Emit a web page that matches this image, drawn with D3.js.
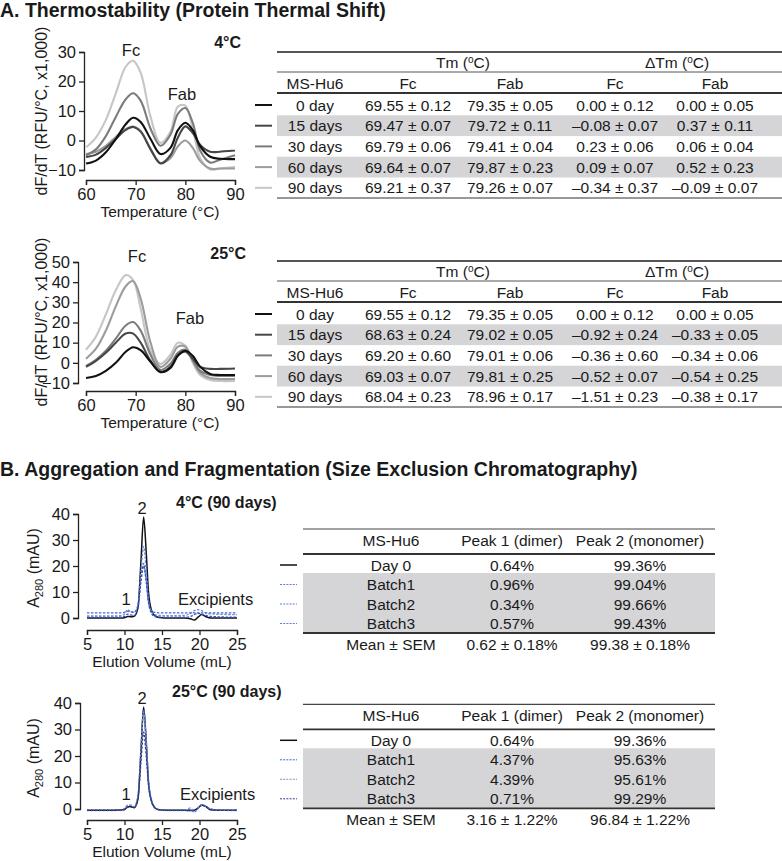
<!DOCTYPE html>
<html><head><meta charset="utf-8">
<script src="https://cdn.jsdelivr.net/npm/d3@7"></script>
<style>
body{margin:0;background:#fff;}
svg text{font-family:"Liberation Sans",Arial,Helvetica,sans-serif;fill:#1a1a1a;}
</style></head><body>
<svg id="fig" width="782" height="861"></svg>
<script>
// ---------------- DATA ----------------
const tempX = [60,62,64,66,68,69.5,71,73,75,77,78.5,80,81.5,83,85,87,90];
const tempTicks = [60,70,80,90];
const seriesNames = ["0 day","15 days","30 days","60 days","90 days"];
const seriesColors = ["#111111","#474747","#7c7c7c","#9c9c9c","#c6c6c6"];

// dF/dT (x1,000) at 4 °C
const dsf4Ticks = [-10,0,10,20,30];
const dsf4_day0  = [-7.8,-6.8,-4,0.5,5.5,7.7,6.3,0.5,-4.6,-2.5,3.5,6,3.5,-2,-5.5,-6.2,-6.3];
const dsf4_day15 = [-5.6,-4.8,-2.5,0.5,3.6,4.6,3,-3,-7.8,-5,1,4.8,2.5,-1.5,-3.8,-3.8,-3.4];
const dsf4_day30 = [-5,-3,1.5,8,14,16,13.5,4,-1.8,2,9,11,6,-3.5,-7.5,-6.5,-5];
const dsf4_day60 = [-4.6,-3.8,-1.8,1.2,3.9,4.7,3.2,-2.8,-7.6,-6,-2,0,-2.5,-7,-9.5,-9.5,-9.5];
const dsf4_day90 = [-2.3,1,7,16,25,27,23,8,-0.8,3,11.5,11.8,4,-6,-9.8,-9.5,-9];

// dF/dT (x1,000) at 25 °C
const dsf25Ticks = [-10,0,10,20,30,40,50];
const dsf25_day0  = [-7.5,-6.5,-4,0,5.5,7.7,6.3,0.5,-4.6,-2.5,3.5,6,3.5,-2,-5.5,-6,-6];
const dsf25_day15 = [-2,1,5,10,14.5,14.5,10,1,-4.5,-2,4,5.5,2,-2,-3,-3,-2.8];
const dsf25_day30 = [-1.5,1.5,6,12,18.5,20.2,16,4,-3.5,-0.5,5,6.5,1.5,-4,-6,-6.5,-6.5];
const dsf25_day60 = [2,7,16,28,38,40.5,32,10,-2,2,8,8,1,-5,-7.5,-8,-8];
const dsf25_day90 = [6.5,13,24,36,43.5,41,27,6,-0.5,4,10,8.5,0,-6,-8.5,-9,-9];

// Tm tables (mean, SD)
const tm4_FcMean  = [69.55,69.47,69.79,69.64,69.21];
const tm4_FcSD    = [0.12,0.07,0.06,0.07,0.37];
const tm4_FabMean = [79.35,79.72,79.41,79.87,79.26];
const tm4_FabSD   = [0.05,0.11,0.04,0.23,0.07];
const dTm4_Fc     = [0.00,-0.08,0.23,0.09,-0.34];
const dTm4_Fab    = [0.00,0.37,0.06,0.52,-0.09];

const tm25_FcMean  = [69.55,68.63,69.20,69.03,68.04];
const tm25_FcSD    = [0.12,0.24,0.60,0.07,0.23];
const tm25_FabMean = [79.35,79.02,79.01,79.81,78.96];
const tm25_FabSD   = [0.05,0.05,0.06,0.25,0.17];
const dTm25_Fc     = [0.00,-0.92,-0.36,-0.52,-1.51];
const dTm25_Fab    = [0.00,-0.33,-0.34,-0.54,-0.38];

// SEC chromatograms (A280, mAU)
const secX = [5,8,9.5,10,10.4,10.8,11.3,11.8,12.2,12.55,12.9,13.2,13.6,14,14.6,16,18,18.8,19.3,19.8,20.3,20.8,21.5,23,25];
const secTicksX = [5,10,15,20,25];
const secTicksY = [0,10,20,30,40];
const secNames = ["Day 0","Batch1","Batch2","Batch3"];

const sec4_day0   = [0,0,0,0.1,0.6,0.5,0.7,4,22,38.8,25,10,3,1,0.2,0,0,-0.3,-0.8,0.3,1.3,0.6,0,0,0];
const sec4_batch1 = [0.8,0.8,0.9,1.5,3.2,2.5,2.2,5,18,27.5,18,7,2.5,1.3,1,0.9,1,1.8,2.8,3.2,2.8,2,1.6,1.4,1.3];
const sec4_batch2 = [2,2,2,2.2,2.6,2.4,2.3,5,15,21,14,6,2.8,2.2,2,2,2,2,2,2,2,2,2,2,2];
const sec4_batch3 = [0.3,0.3,0.3,0.6,1.5,1.2,1,4,14,20,14,6,1.8,0.6,0.3,0.3,0.3,0.6,1.3,1.8,1.5,1,0.6,0.4,0.3];

const sec25_day0   = [-0.5,-0.5,-0.4,-0.2,0.8,0.9,0.5,4,22,38.5,25,10,3,0.6,-0.3,-0.5,-0.5,-0.6,-0.5,0.3,1.5,1,-0.3,-0.5,-0.5];
const sec25_batch1 = [-0.5,-0.5,-0.4,0.2,1.4,1.5,0.9,5,23,37.5,26,11,3.5,0.8,-0.2,-0.5,-0.5,-0.2,-1.2,0.3,1.6,1.2,0,-0.4,-0.5];
const sec25_batch2 = [-0.6,-0.6,-0.5,0.1,1.3,1.4,0.8,5,22,36.5,25,10,3.2,0.7,-0.3,-0.6,-0.6,0.4,-1,0.2,1.5,1.1,-0.1,-0.5,-0.6];
const sec25_batch3 = [-0.5,-0.5,-0.4,-0.2,0.6,0.8,0.5,4,18,29,20,9,3,0.6,-0.3,-0.5,-0.5,-0.5,-0.5,0.4,1.3,0.9,-0.2,-0.5,-0.5];

// SEC tables (%)
const sec4_peak1  = [0.64,0.96,0.34,0.57];
const sec4_peak2  = [99.36,99.04,99.66,99.43];
const sec4_meanP1 = [0.62,0.18];
const sec4_meanP2 = [99.38,0.18];
const sec25_peak1  = [0.64,4.37,4.39,0.71];
const sec25_peak2  = [99.36,95.63,95.61,99.29];
const sec25_meanP1 = [3.16,1.22];
const sec25_meanP2 = [96.84,1.22];

// ---------------- DRAWING ----------------
const svg = d3.select("#fig");

function label(g, x, y, str, size, opts = {}) {
  const t = g.append("text").attr("x", x).attr("y", y).attr("font-size", size)
    .attr("text-anchor", opts.anchor || "start").text(str);
  if (opts.bold) t.attr("font-weight", "bold");
  return t;
}
function hline(g, x0, x1, y, w, c) {
  g.append("line").attr("x1", x0).attr("x2", x1).attr("y1", y).attr("y2", y)
    .attr("stroke", c).attr("stroke-width", w);
}
function styleAxis(g) {
  g.attr("font-size", null).attr("font-family", null);
  g.selectAll("text").attr("font-size", 16.5).attr("fill", "#1a1a1a");
  g.select(".domain").attr("stroke", "#222").attr("stroke-width", 1.3);
  g.selectAll(".tick line").attr("stroke", "#222").attr("stroke-width", 1.3);
}

// Titles
label(svg, 0, 17, "A. Thermostability (Protein Thermal Shift)", 19.5, {bold: true});
label(svg, 0, 476, "B. Aggregation and Fragmentation (Size Exclusion Chromatography)", 19.5, {bold: true});

function dsfChart(cfg) {
  const g = svg.append("g");
  const x = d3.scaleLinear().domain([60, 90]).range([86, 235]);
  const y = d3.scaleLinear().domain(cfg.yDomain).range(cfg.yRange);
  g.append("g").attr("transform", `translate(${cfg.axisX},0)`)
    .call(d3.axisLeft(y).tickValues(cfg.yTicks).tickSize(5).tickPadding(3)).call(styleAxis);
  g.append("g").attr("transform", `translate(0,${cfg.xAxisY})`)
    .call(d3.axisBottom(x).tickValues(tempTicks).tickSize(5).tickPadding(3)).call(styleAxis);
  const line = d3.line().x((d, i) => x(tempX[i])).y(d => y(d)).curve(d3.curveCatmullRom.alpha(0.5));
  // draw light curves first, black last
  for (let k = cfg.series.length - 1; k >= 0; k--) {
    g.append("path").attr("d", line(cfg.series[k])).attr("fill", "none")
      .attr("stroke", seriesColors[k]).attr("stroke-width", 2.1);
  }
  const yl = g.append("text").attr("transform", `translate(47,${cfg.labelCY}) rotate(-90)`)
    .attr("text-anchor", "middle").attr("font-size", 16);
  yl.text("dF/dT (RFU/°C, x1,000)");
  label(g, 160, cfg.xAxisY + 37, "Temperature (°C)", 15.5, {anchor: "middle"});
  label(g, cfg.condX, cfg.condY, cfg.cond, 16, {bold: true, anchor: "end"});
  label(g, cfg.fc[0], cfg.fc[1], "Fc", 16.5, {anchor: "middle"});
  label(g, cfg.fab[0], cfg.fab[1], "Fab", 16.5, {anchor: "middle"});
}

dsfChart({yDomain: [-10, 30], yRange: [170, 52], yTicks: dsf4Ticks, axisX: 84, xAxisY: 180,
  series: [dsf4_day0, dsf4_day15, dsf4_day30, dsf4_day60, dsf4_day90],
  labelCY: 111, cond: "4°C", condX: 241, condY: 48, fc: [131, 56], fab: [182, 100]});
dsfChart({yDomain: [-10, 50], yRange: [383, 262], yTicks: dsf25Ticks, axisX: 78, xAxisY: 391,
  series: [dsf25_day0, dsf25_day15, dsf25_day30, dsf25_day60, dsf25_day90],
  labelCY: 322, cond: "25°C", condX: 246, condY: 259, fc: [137, 262], fab: [190, 324]});

function pm(m, s) {
  return (m < 0 ? "\u2013" : "") + Math.abs(m).toFixed(2) + " ± " + s.toFixed(2);
}

function tmTable(y0, fcM, fcS, fabM, fabS, dFc, dFab) {
  const g = svg.append("g");
  const x0 = 277, x1 = 782;
  const fs = 15.5;
  const rowY = i => y0 + 53 + i * 20.7;
  [1, 3].forEach(i => g.append("rect").attr("x", x0).attr("y", rowY(i) - 10.4)
    .attr("width", x1 - x0).attr("height", 20.8).attr("fill", "#d5d5d7"));
  hline(g, x0, x1, y0, 1.8, "#555");
  hline(g, x0, x1, y0 + 20, 1, "#555");
  hline(g, x0, x1, y0 + 41, 1.8, "#333");
  hline(g, x0, x1, y0 + 146, 1.2, "#333");
  const hy = y0 + 10 + 5.5;
  [["Tm (", 463], ["\u0394Tm (", 677]].forEach(([s, cx]) => {
    const t = g.append("text").attr("x", cx).attr("y", hy).attr("font-size", fs).attr("text-anchor", "middle");
    t.append("tspan").text(s);
    t.append("tspan").attr("dy", -5).attr("font-size", 10).text("o");
    t.append("tspan").attr("dy", 5).text("C)");
  });
  const cols = [315, 408, 510, 615, 715];
  ["MS-Hu6", "Fc", "Fab", "Fc", "Fab"].forEach((s, i) => label(g, cols[i], y0 + 31 + 5.5, s, fs, {anchor: "middle"}));
  seriesNames.forEach((n, i) => {
    const cy = rowY(i);
    g.append("line").attr("x1", 255).attr("x2", 272).attr("y1", cy).attr("y2", cy)
      .attr("stroke", seriesColors[i]).attr("stroke-width", 2);
    const vals = [n, pm(fcM[i], fcS[i]), pm(fabM[i], fabS[i]), pm(dFc[i], fcS[i]), pm(dFab[i], fabS[i])];
    vals.forEach((s, j) => label(g, cols[j], cy + 5.5, s, fs, {anchor: "middle"}));
  });
}
tmTable(52, tm4_FcMean, tm4_FcSD, tm4_FabMean, tm4_FabSD, dTm4_Fc, dTm4_Fab);
tmTable(261, tm25_FcMean, tm25_FcSD, tm25_FabMean, tm25_FabSD, dTm25_Fc, dTm25_Fab);

function secChart(cfg) {
  const g = svg.append("g");
  const x = d3.scaleLinear().domain([5, 25]).range([87, 237]);
  const y = d3.scaleLinear().domain([0, 40]).range(cfg.yRange);
  g.append("g").attr("transform", `translate(${cfg.axisX},0)`)
    .call(d3.axisLeft(y).tickValues(secTicksY).tickSize(5).tickPadding(3)).call(styleAxis);
  g.append("g").attr("transform", `translate(0,${cfg.xAxisY})`)
    .call(d3.axisBottom(x).tickValues(secTicksX).tickSize(5).tickPadding(3)).call(styleAxis);
  const line = d3.line().x((d, i) => x(secX[i])).y(d => y(d)).curve(d3.curveMonotoneX);
  g.append("path").attr("d", line(cfg.series[0])).attr("fill", "none").attr("stroke", "#111").attr("stroke-width", 1.5);
  for (let k = 1; k < cfg.series.length; k++) {
    g.append("path").attr("d", line(cfg.series[k])).attr("fill", "none")
      .attr("stroke", cfg.colors[k]).attr("stroke-width", 1.3).attr("stroke-dasharray", "2.5,1.5");
  }
  const t = g.append("text").attr("transform", `translate(39,${cfg.labelCY}) rotate(-90)`)
    .attr("text-anchor", "middle").attr("font-size", 16);
  t.append("tspan").text("A");
  t.append("tspan").attr("dy", 4).attr("font-size", 11).text("280");
  t.append("tspan").attr("dy", -4).text(" (mAU)");
  label(g, 162, cfg.xAxisY + 37, "Elution Volume (mL)", 15.5, {anchor: "middle"});
  label(g, cfg.condX, cfg.condY, cfg.cond, 16, {bold: true});
  label(g, 142, cfg.p2Y, "2", 16.5, {anchor: "middle"});
  label(g, 126, cfg.p1Y, "1", 16.5, {anchor: "middle"});
  label(g, cfg.excX, cfg.p1Y, "Excipients", 16.5);
}
const sec4Colors = ["#111", "#6f8ad8", "#4b6bd0", "#3555c4"];
const sec25Colors = ["#111", "#3f63d6", "#7f90c8", "#2c3f94"];
secChart({yRange: [618, 514], axisX: 78, xAxisY: 630, labelCY: 568,
  series: [sec4_day0, sec4_batch1, sec4_batch2, sec4_batch3], colors: sec4Colors,
  cond: "4°C (90 days)", condX: 176, condY: 508, p2Y: 514, p1Y: 605, excX: 178});
secChart({yRange: [809, 703], axisX: 80, xAxisY: 820, labelCY: 758,
  series: [sec25_day0, sec25_batch1, sec25_batch2, sec25_batch3], colors: sec25Colors,
  cond: "25°C (90 days)", condX: 172, condY: 697, p2Y: 704, p1Y: 800, excX: 180});

function secTable(y0, p1, p2, m1, m2, colors) {
  const g = svg.append("g");
  const x0 = 303, x1 = 715, fs = 15.5;
  const cols = [391, 512, 640];
  g.append("rect").attr("x", x0).attr("y", y0 + 44).attr("width", x1 - x0).attr("height", 60).attr("fill", "#d5d5d7");
  hline(g, x0, x1, y0, 1.2, "#444");
  hline(g, x0, x1, y0 + 25, 1.8, "#333");
  hline(g, x0, x1, y0 + 104, 1.8, "#333");
  ["MS-Hu6", "Peak 1 (dimer)", "Peak 2 (monomer)"].forEach((s, i) => label(g, cols[i], y0 + 11 + 5.5, s, fs, {anchor: "middle"}));
  const rowY = [y0 + 36, y0 + 55.5, y0 + 75, y0 + 94.5];
  secNames.forEach((n, i) => {
    const cy = rowY[i];
    const l = g.append("line").attr("x1", 280).attr("x2", 297).attr("y1", cy).attr("y2", cy)
      .attr("stroke", colors[i]).attr("stroke-width", i === 0 ? 1.5 : 1);
    if (i > 0) l.attr("stroke-dasharray", "2,1.2");
    [n, p1[i].toFixed(2) + "%", p2[i].toFixed(2) + "%"].forEach((s, j) => label(g, cols[j], cy + 5.5, s, fs, {anchor: "middle"}));
  });
  const my = y0 + 115 + 5.5;
  label(g, cols[0], my, "Mean ± SEM", fs, {anchor: "middle"});
  label(g, cols[1], my, m1[0].toFixed(2) + " ± " + m1[1].toFixed(2) + "%", fs, {anchor: "middle"});
  label(g, cols[2], my, m2[0].toFixed(2) + " ± " + m2[1].toFixed(2) + "%", fs, {anchor: "middle"});
}
secTable(529, sec4_peak1, sec4_peak2, sec4_meanP1, sec4_meanP2, ["#111", "#5b7fe0", "#5b7fe0", "#5b7fe0"]);
secTable(704.3, sec25_peak1, sec25_peak2, sec25_meanP1, sec25_meanP2, sec25Colors);
</script>
</body></html>
